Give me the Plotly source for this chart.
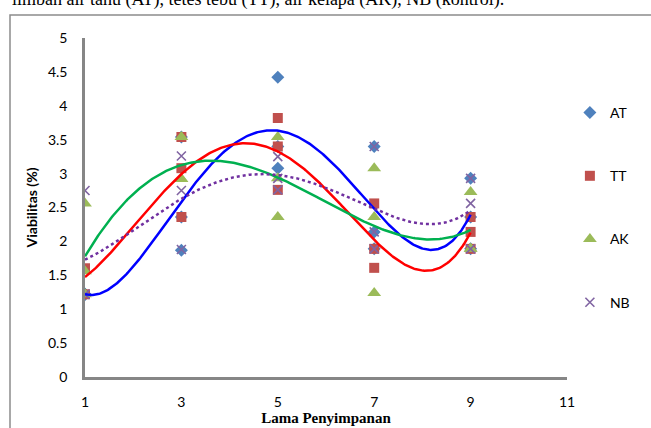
import numpy as np
import plotly.graph_objects as go

days = [1, 3, 5, 7, 9]
series_names = ["AT", "TT", "AK", "NB"]

# replicate viability values (%) at each storage time
AT = [[1.22, 1.22, 1.22], [3.54, 2.36, 1.87], [4.42, 3.40, 3.08], [3.40, 2.14, 1.89], [2.93, 2.36, 1.89]]
TT = [[1.60, 1.60, 1.22], [3.54, 3.08, 2.36], [3.82, 3.40, 2.76], [2.56, 1.89, 1.61], [2.36, 2.14, 1.89]]
AK = [[2.56, 1.56, 1.22], [3.54, 2.92, 2.92], [3.54, 2.93, 2.36], [3.08, 2.36, 1.24], [2.73, 1.89, 1.89]]
NB = [[2.75, 1.22, 1.22], [3.26, 2.75, 1.88], [3.25, 2.93, 2.76], [3.40, 2.14, 1.89], [2.93, 2.56, 1.89]]

x_ticks = [1, 3, 5, 7, 9, 11]
y_ticks = [0, 0.5, 1, 1.5, 2, 2.5, 3, 3.5, 4, 4.5, 5]
y_tick_labels = ["0", "0.5", "1", "1.5", "2", "2.5", "3", "3.5", "4", "4.5", "5"]

data = {"AT": AT, "TT": TT, "AK": AK, "NB": NB}
marker_styles = {
    "AT": dict(symbol="diamond", size=10, color="#4F81BD"),
    "TT": dict(symbol="square", size=10, color="#C0504D"),
    "AK": dict(symbol="triangle-up", size=12, color="#9BBB59"),
    "NB": dict(symbol="x-thin", size=9, color="#8064A2", line=dict(color="#8064A2", width=1.6)),
}
line_styles = {
    "AT": dict(color="#0000FF", width=2.5),
    "TT": dict(color="#FF0000", width=2.5),
    "AK": dict(color="#00B050", width=2.5),
    "NB": dict(color="#7030A0", width=2.5, dash="dot"),
}

fig = go.Figure()

for name in series_names:
    reps = data[name]
    xs = [d for d, r in zip(days, reps) for _ in r]
    ys = [v for r in reps for v in r]
    fig.add_trace(go.Scatter(
        x=xs, y=ys, mode="markers", name=name, legendgroup=name,
        marker=marker_styles[name],
    ))

for name in series_names:
    means = [np.mean(r) for r in data[name]]
    coef = np.polyfit(days, means, 4)
    xx = np.linspace(1, 9, 300)
    yy = np.polyval(coef, xx)
    fig.add_trace(go.Scatter(
        x=xx, y=yy, mode="lines", line=line_styles[name],
        showlegend=False, legendgroup=name, hoverinfo="skip",
    ))

fig.update_layout(
    width=651, height=428,
    margin=dict(l=85, r=84, t=38, b=51, autoexpand=False),
    paper_bgcolor="white", plot_bgcolor="white",
    font=dict(family="Lato, Open Sans, sans-serif", size=14, color="#000"),
    legend=dict(
        x=1.006, y=0.5, xanchor="left", yanchor="middle",
        tracegroupgap=42, font=dict(size=14), itemwidth=30,
        bgcolor="rgba(0,0,0,0)",
    ),
    xaxis=dict(
        range=[1, 11], tickvals=x_ticks, showgrid=False, zeroline=False,
        showline=True, linecolor="#868686", linewidth=2.5, automargin=False,
        ticks="", ticklabelstandoff=10,
        title=dict(text="<b>Lama Penyimpanan</b>", font=dict(family="Liberation Serif, Times New Roman, serif", size=15), standoff=2),
    ),
    yaxis=dict(
        range=[0, 5], tickvals=y_ticks, ticktext=y_tick_labels, showgrid=False, zeroline=False,
        showline=True, linecolor="#868686", linewidth=2.5, automargin=False,
        ticks="", ticklabelstandoff=12,
        title=dict(text="<b>Viabilitas (%)</b>", font=dict(size=14), standoff=8),
    ),
    shapes=[dict(
        type="rect", xref="paper", yref="paper",
        x0=(10 - 85) / 482, x1=1.4, y0=-0.4, y1=(377 - 15) / 339,
        line=dict(color="#8C8C8C", width=1.5), fillcolor="rgba(0,0,0,0)", layer="below",
    )],
    annotations=[dict(
        text="limbah air tahu (AT), tetes tebu (TT), air kelapa (AK), NB (kontrol).",
        xref="paper", yref="paper", x=(10 - 85) / 482, y=(377 - 12) / 339,
        xanchor="left", yanchor="bottom", showarrow=False,
        font=dict(family="Liberation Serif, Times New Roman, serif", size=18, color="#000"),
    )],
)

fig.write_html("out.html", config={"displayModeBar": False},
               post_script="document.body.style.margin='0';")
